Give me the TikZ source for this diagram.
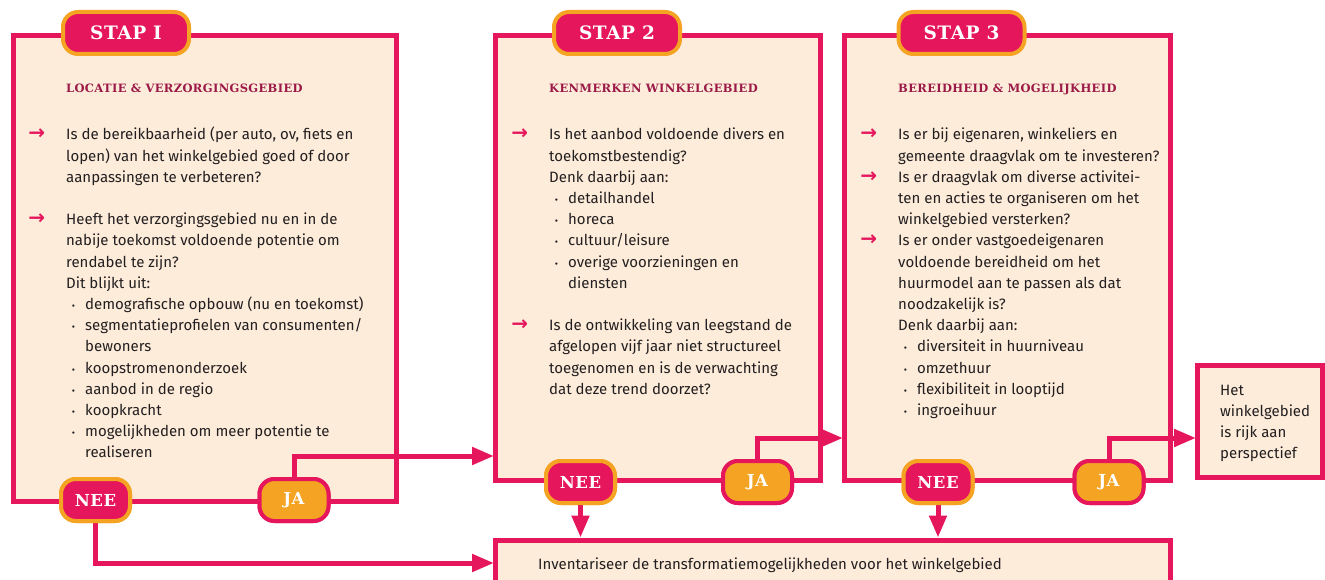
\documentclass[tikz,border=0pt]{standalone}
\usepackage{fontspec}
\setmainfont{Fira Sans}
\newfontfamily\kopfont[LetterSpace=3]{DejaVu Serif}
\newfontfamily\pijlfont{DejaVu Sans}
\usetikzlibrary{arrows.meta}

\definecolor{roze}{RGB}{230,22,92}
\definecolor{oranje}{RGB}{245,163,35}
\definecolor{creme}{RGB}{253,236,218}
\definecolor{bordeaux}{RGB}{155,25,70}
\definecolor{zwart}{RGB}{35,31,32}

\newcommand\pijl{\leavevmode\llap{\textcolor{roze}{\pijlfont\bfseries\fontsize{20}{20}\selectfont →}\hspace{21pt}}}
\newcommand\bol{\leavevmode\hspace*{19pt}\llap{{\fontsize{10}{10}\selectfont •}\hspace{10pt}}}
\newcommand\inspr{\leavevmode\hspace*{19pt}}
\newcommand\vaktekst[2]{\begin{minipage}[t]{#1}#2\end{minipage}}

\begin{document}
\begin{tikzpicture}[x=1pt,y=-1pt,
    vak/.style={draw=roze,fill=creme,line width=5pt,inner sep=0pt},
    stap/.style={draw=oranje,fill=roze,line width=4pt,rounded corners=15pt,
      minimum width=126pt,minimum height=42pt,text=white,
      font=\kopfont\bfseries\fontsize{18.5}{18.5}\selectfont},
    nee/.style={stap,minimum width=69pt,font=\kopfont\bfseries\fontsize{16.5}{16.5}\selectfont},
    ja/.style={nee,draw=roze,fill=oranje},
    kop/.style={anchor=base west,inner sep=0pt,text=bordeaux,
      font=\kopfont\bfseries\fontsize{11.5}{11.5}\selectfont},
    tekst/.style={anchor=base west,inner sep=0pt,text=zwart,
      font=\fontsize{15}{21.2}\selectfont},
    verbind/.style={draw=roze,line width=5pt,-{Triangle[length=22pt,width=17pt]}}]
    \useasboundingbox (0,0) rectangle (1325,580);

    \node[vak,minimum width=382.7pt,minimum height=465.5pt] (B1) at (204.65,268.75) {};
    \node[vak,minimum width=325pt,minimum height=444pt] (B2) at (658,258) {};
    \node[vak,minimum width=326pt,minimum height=444pt] (B3) at (1007.5,258) {};
    \node[vak,minimum width=125pt,minimum height=112pt] (HET) at (1260,421.5) {};
    \node[vak,minimum width=675pt,minimum height=80pt] (INV) at (833,580) {};

    \node[kop] (K1) at (66,93) {LOCATIE \& VERZORGINGSGEBIED};
    \node[kop] (K2) at (549,93) {KENMERKEN WINKELGEBIED};
    \node[kop] (K3) at (898,93) {BEREIDHEID \& MOGELIJKHEID};

    \node[tekst] (T1) at (66,140) {\vaktekst{340pt}{%
      \pijl Is de bereikbaarheid (per auto, ov, fiets en\\
      lopen) van het winkelgebied goed of door\\
      aanpassingen te verbeteren?\\[21.2pt]
      \pijl Heeft het verzorgingsgebied nu en in de\\
      nabije toekomst voldoende potentie om\\
      rendabel te zijn?\\
      Dit blijkt uit:\\
      \bol demografische opbouw (nu en toekomst)\\
      \bol segmentatieprofielen van consumenten/\\
      \inspr bewoners\\
      \bol koopstromenonderzoek\\
      \bol aanbod in de regio\\
      \bol koopkracht\\
      \bol mogelijkheden om meer potentie te\\
      \inspr realiseren}};
    \node[tekst] (T2) at (549,140) {\vaktekst{300pt}{%
      \pijl Is het aanbod voldoende divers en\\
      toekomstbestendig?\\
      Denk daarbij aan:\\
      \bol detailhandel\\
      \bol horeca\\
      \bol cultuur/leisure\\
      \bol overige voorzieningen en\\
      \inspr diensten\\[21.2pt]
      \pijl Is de ontwikkeling van leegstand de\\
      afgelopen vijf jaar niet structureel\\
      toegenomen en is de verwachting\\
      dat deze trend doorzet?}};
    \node[tekst] (T3) at (898,140) {\vaktekst{300pt}{%
      \pijl Is er bij eigenaren, winkeliers en\\
      gemeente draagvlak om te investeren?\\
      \pijl Is er draagvlak om diverse activitei-\\
      ten en acties te organiseren om het\\
      winkelgebied versterken?\\
      \pijl Is er onder vastgoedeigenaren\\
      voldoende bereidheid om het\\
      huurmodel aan te passen als dat\\
      noodzakelijk is?\\
      Denk daarbij aan:\\
      \bol diversiteit in huurniveau\\
      \bol omzethuur\\
      \bol flexibiliteit in looptijd\\
      \bol ingroeihuur}};
    \node[tekst] (T4) at (1220,395) {\vaktekst{120pt}{%
      Het\\ winkelgebied\\ is rijk aan\\ perspectief}};
    \node[tekst] (T5) at (538,569) {Inventariseer de transformatiemogelijkheden voor het winkelgebied};

    \coordinate (I2) at (494,456);
    \coordinate (I3) at (843,438);
    \coordinate (I4) at (1196,438);
    \coordinate (I5) at (494,563);

    \node[stap] (S1) at (126,33) {STAP I};
    \node[stap] (S2) at (617,33) {STAP 2};
    \node[stap] (S3) at (961.5,33) {STAP 3};

    \path (95.5,500) node[nee] (N1) {} (294,500) node[ja] (J1) {};
    \path (580.5,482) node[nee] (N2) {} (757.5,482) node[ja] (J2) {};
    \path (938,482) node[nee] (N3) {} (1109,482) node[ja] (J3) {};

    \draw[verbind] (J1.north) |- (I2);
    \draw[verbind] (J2.north) |- (I3);
    \draw[verbind] (J3.north) |- (I4);
    \draw[verbind] (N1.south) |- (I5);
    \draw[verbind] (N2.south) -- (N2 |- INV.north);
    \draw[verbind] (N3.south) -- (N3 |- INV.north);

    \node[nee] at (N1) {NEE};
    \node[ja] at (J1) {JA};
    \node[nee] at (N2) {NEE};
    \node[ja] at (J2) {JA};
    \node[nee] at (N3) {NEE};
    \node[ja] at (J3) {JA};
\end{tikzpicture}
\end{document}
